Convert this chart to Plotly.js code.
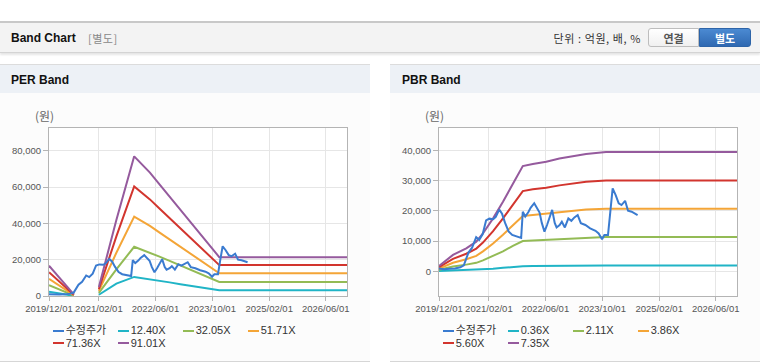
<!DOCTYPE html>
<html><head><meta charset="utf-8">
<script src="https://cdn.plot.ly/plotly-3.0.1.min.js"></script>
<style>
html,body{margin:0;padding:0;background:#fff;width:760px;height:364px;overflow:hidden;font-family:"Liberation Sans","Noto Sans CJK KR",sans-serif;}
.abs{position:absolute;}
#topline{left:0;top:21px;width:760px;height:2px;background:#c8c8c8;}
#header{left:0;top:23px;width:760px;height:29px;background:#f3f3f3;border-bottom:1px solid #d4d4d4;box-shadow:0 2px 2px rgba(0,0,0,0.10);}
.htitle{left:11px;top:0;line-height:30px;font-weight:bold;font-size:12px;color:#111;}
.hsub{left:88px;top:0;line-height:30px;font-size:11px;color:#888;letter-spacing:0.5px;font-family:"Noto Sans CJK KR",sans-serif;}
.hunit{right:119px;top:0;line-height:30px;font-size:11px;color:#333;letter-spacing:0.6px;font-family:"Noto Sans CJK KR",sans-serif;}
.btn{top:5px;height:19px;line-height:19px;text-align:center;font-size:11px;font-weight:bold;font-family:"Noto Sans CJK KR",sans-serif;box-sizing:border-box;}
.b1{left:648px;width:51px;background:linear-gradient(#ffffff,#f0f0f0);border:1px solid #bdbdbd;border-radius:3px 0 0 3px;color:#555;}
.b2{left:699px;width:52px;background:linear-gradient(#4b8ad2,#2f69b2);border:1px solid #2d64a8;border-radius:0 3px 3px 0;color:#fff;}
.panel{top:64px;width:370px;height:298px;background:#fcfcfc;border-top:1px solid #dcdcdc;border-bottom:1px solid #d6d6d6;box-sizing:border-box;}
.ptitle{left:0;top:0;width:370px;height:28px;background:#edf1f6;}
.ptitle span{position:absolute;left:11px;top:0;line-height:31px;font-weight:bold;font-size:12px;color:#111;}
.chart{top:95px;width:370px;height:267px;}
.lg-line{height:2px;width:11px;}
.lg-text{font-size:11px;color:#333;line-height:13px;white-space:nowrap;}
</style>
</head><body>
<div id="topline" class="abs"></div>
<div id="header" class="abs">
  <div class="abs htitle">Band Chart</div>
  <div class="abs hsub">[별도]</div>
  <div class="abs hunit">단위 : 억원, 배, %</div>
  <div class="abs btn b1">연결</div>
  <div class="abs btn b2">별도</div>
</div>
<div class="abs panel" style="left:0"><div class="abs ptitle"><span>PER Band</span></div></div>
<div class="abs panel" style="left:390px"><div class="abs ptitle"><span style="left:12px">PBR Band</span></div></div>
<div id="per" class="abs chart" style="left:0"></div>
<div id="pbr" class="abs chart" style="left:390px"></div>
<script>
// ---------- DATA ----------
const tickDates = ['2019-12-01','2021-02-01','2022-06-01','2023-10-01','2025-02-01','2026-06-01'];
const tickLabels = ['2019/12/01','2021/02/01','2022/06/01','2023/10/01','2025/02/01','2026/06/01'];

const seriesColors = ['#3a7bd0','#20b4c6','#93bb55','#f4a537','#d2352e','#955a9d'];
const perNames = ['수정주가','12.40X','32.05X','51.71X','71.36X','91.01X'];
const pbrNames = ['수정주가','0.36X','2.11X','3.86X','5.60X','7.35X'];

// 수정주가 (adjusted price, 원)
const priceDates = ['2019-12-01','2020-01-15','2020-03-01','2020-04-15','2020-06-01','2020-07-01','2020-07-20','2020-08-10','2020-09-10','2020-10-15','2020-11-10','2020-12-10','2021-01-08','2021-02-05','2021-03-10','2021-04-01','2021-05-01','2021-05-25','2021-06-20','2021-07-20','2021-08-20','2021-09-25','2021-10-20','2021-11-05','2021-11-19','2021-12-10','2022-01-05','2022-01-25','2022-02-25','2022-03-20','2022-04-12','2022-05-01','2022-05-24','2022-06-15','2022-07-29','2022-08-20','2022-09-05','2022-10-01','2022-10-20','2022-11-15','2022-12-15','2023-01-10','2023-02-05','2023-03-05','2023-04-01','2023-05-10','2023-06-20','2023-08-05','2023-09-01','2023-09-30','2023-10-20','2023-11-20','2023-12-10','2023-12-30','2024-01-25','2024-02-20','2024-03-15','2024-04-15','2024-05-10','2024-06-10','2024-07-31'];
const priceValues = [900,700,800,900,1300,2000,4000,6200,7800,11300,10400,12300,16800,17400,17200,18000,20400,19000,16000,13200,12000,11500,11300,11000,19700,18100,19500,21000,22500,21000,19400,16000,13100,15300,20300,16000,14500,15300,16400,14500,17500,16700,17800,18600,15900,15300,14200,13400,12500,10600,12000,12000,20000,27400,25200,22500,21900,23300,20000,19700,18600];

// PER bands
const perBandDates = ['2019-12-01','2020-07-01','2020-10-01','2021-02-01','2021-07-01','2021-12-01','2022-04-15','2022-07-01','2022-10-01','2023-01-01','2023-04-01','2023-07-01','2023-10-01','2023-11-25','2023-12-01','2026-12-01'];
const perBand1240 = [2300,100,null,700,6800,10500,9300,8400,7500,6500,5600,4600,3700,3300,3200,3200];
const perBand3205 = [5900,300,null,1700,14700,27100,23900,21800,19300,16800,14400,11900,9400,8000,7700,7700];
const perBand5171 = [9500,500,null,2800,23800,43700,38600,35200,31100,27100,23200,19100,15200,12800,12500,12500];
const perBand7136 = [13100,700,null,3800,32800,60300,53200,48500,43000,37400,32000,26400,20900,17600,17000,17000];
const perBand9101 = [16700,900,null,4900,41900,76900,67900,61900,54800,47700,40800,33700,26700,22300,21400,21400];

// PBR bands
const pbrBandDates = ['2019-12-01','2020-03-30','2020-07-22','2020-10-16','2020-12-12','2021-03-09','2021-06-02','2021-08-26','2021-11-19','2022-02-13','2022-06-08','2022-09-29','2023-01-21','2023-05-16','2023-11-03','2026-12-01'];
const pbrBand036 = [90,260,370,480,610,860,1130,1430,1700,1740,1770,1830,1870,1900,1930,1930];
const pbrBand211 = [500,1550,2200,2800,3600,5000,6600,8400,10000,10200,10400,10700,10900,11100,11300,11300];
const pbrBand386 = [920,2800,4000,5100,6600,9200,12100,15300,18300,18600,19000,19600,20000,20400,20700,20700];
const pbrBand560 = [1330,4100,5800,7500,9500,13300,17500,22200,26500,27100,27600,28400,29000,29600,30000,30000];
const pbrBand735 = [1750,5400,7600,9800,12500,17500,23000,29100,34800,35500,36200,37300,38100,38800,39400,39400];

// ---------- BUILD ----------
function lineTrace(x, y, name, color) {
  return {type:'scatter', mode:'lines', x:x, y:y, name:name, showlegend:false,
          line:{color:color, width:2}, hoverinfo:'skip'};
}
function makeLayout(yr, yticks) {
  const axFont = {family:'Liberation Sans, sans-serif', size:9.5, color:'#555'};
  return {
    width:370, height:267,
    margin:{l:49, r:23, t:33, b:66, pad:0},
    paper_bgcolor:'rgba(0,0,0,0)', plot_bgcolor:'#ffffff',
    showlegend:false,
    xaxis:{type:'date', range:['2019-12-01','2026-12-01'], tickvals:tickDates, ticktext:tickLabels,
           showgrid:true, gridcolor:'#e6e6e6', gridwidth:1, showline:true, linecolor:'#b4b4b4', mirror:true,
           ticks:'outside', ticklen:4, tickcolor:'#b4b4b4', tickfont:axFont, zeroline:false, fixedrange:true},
    yaxis:{range:yr, tickvals:yticks, tickformat:',', showgrid:true, gridcolor:'#e6e6e6', gridwidth:1,
           showline:true, linecolor:'#b4b4b4', mirror:true, ticks:'outside', ticklen:5, tickcolor:'#b4b4b4',
           tickfont:axFont, zeroline:false, fixedrange:true},
    annotations:[{text:'(원)', xref:'paper', yref:'paper', x:0, y:1, xanchor:'center', yanchor:'bottom',
                  xshift:-5, yshift:2, showarrow:false,
                  font:{family:'Noto Sans CJK KR, sans-serif', size:12, color:'#666'}}]
  };
}
const perTraces = [
  lineTrace(perBandDates, perBand1240, perNames[1], seriesColors[1]),
  lineTrace(perBandDates, perBand3205, perNames[2], seriesColors[2]),
  lineTrace(perBandDates, perBand5171, perNames[3], seriesColors[3]),
  lineTrace(perBandDates, perBand7136, perNames[4], seriesColors[4]),
  lineTrace(perBandDates, perBand9101, perNames[5], seriesColors[5]),
  lineTrace(priceDates, priceValues, perNames[0], seriesColors[0])
];
const pbrTraces = [
  lineTrace(pbrBandDates, pbrBand036, pbrNames[1], seriesColors[1]),
  lineTrace(pbrBandDates, pbrBand211, pbrNames[2], seriesColors[2]),
  lineTrace(pbrBandDates, pbrBand386, pbrNames[3], seriesColors[3]),
  lineTrace(pbrBandDates, pbrBand560, pbrNames[4], seriesColors[4]),
  lineTrace(pbrBandDates, pbrBand735, pbrNames[5], seriesColors[5]),
  lineTrace(priceDates, priceValues, pbrNames[0], seriesColors[0])
];
const cfg = {displayModeBar:false, staticPlot:true};
Plotly.newPlot('per', perTraces, makeLayout([0, 92500], [0,20000,40000,60000,80000]), cfg);
Plotly.newPlot('pbr', pbrTraces, makeLayout([-8170, 47370], [0,10000,20000,30000,40000]), cfg);

// Legends (HTML), built from series names and colors
function addLegend(ox, names) {
  names.forEach(function(n, i) {
    const col = i % 4, row = Math.floor(i / 4);
    const lx = ox + 52.7 + 65 * col, cy = 330.7 + 12.6 * row;
    const ln = document.createElement('div');
    ln.className = 'abs lg-line';
    ln.style.left = lx + 'px'; ln.style.top = (cy - 1) + 'px'; ln.style.background = seriesColors[i];
    document.body.appendChild(ln);
    const tx = document.createElement('div');
    tx.className = 'abs lg-text';
    tx.style.left = (lx + 13) + 'px'; tx.style.top = (cy - 6.5) + 'px';
    tx.textContent = n;
    document.body.appendChild(tx);
  });
}
addLegend(0, perNames);
addLegend(390, pbrNames);
</script>
</body></html>
